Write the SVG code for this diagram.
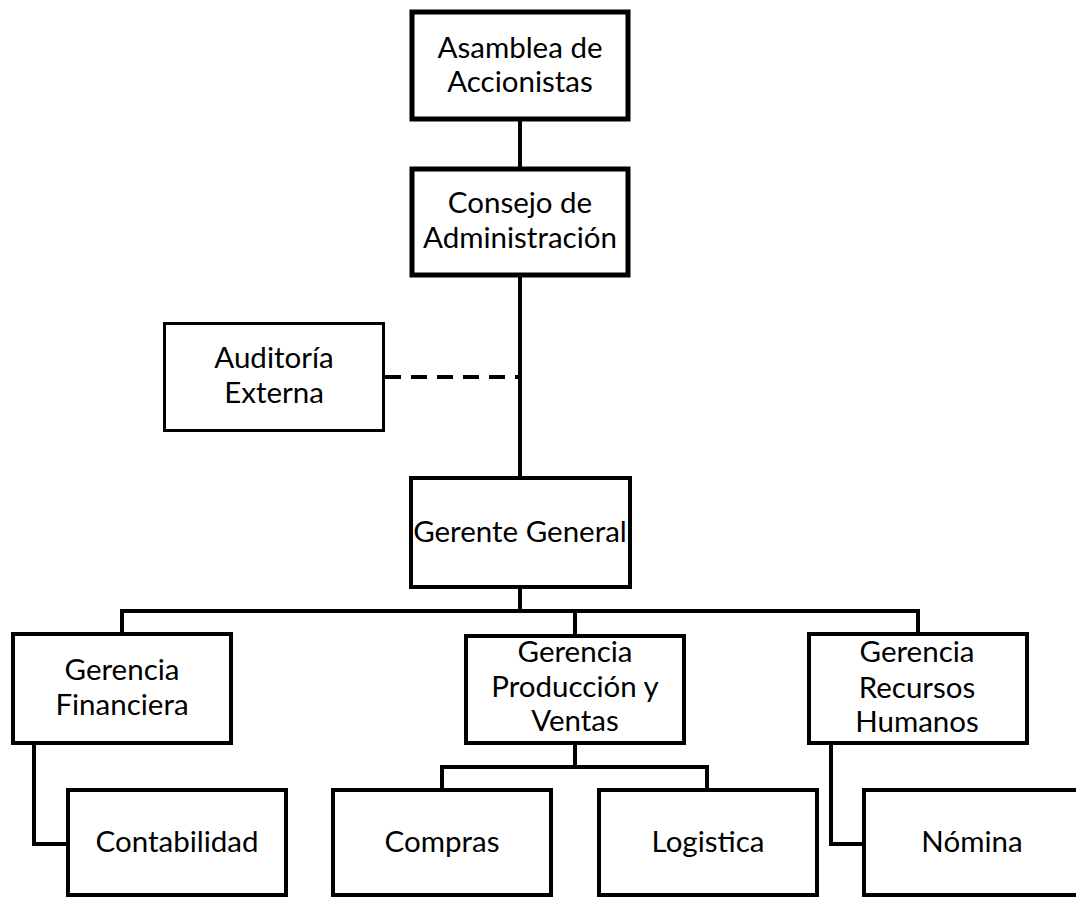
<svg xmlns="http://www.w3.org/2000/svg" width="1076" height="898" viewBox="0 0 1076 898">
<style>
.box{fill:#fff;stroke:#000;stroke-width:4}
.thick{stroke-width:5}
.thin{stroke-width:3}
.t{font-family:Lato,"Open Sans","Liberation Sans",sans-serif;font-size:29.5px;fill:#000;text-anchor:middle}
.c{fill:none;stroke:#000;stroke-width:4}
.d{fill:none;stroke:#000;stroke-width:4;stroke-dasharray:16 10}
</style>
<rect width="1076" height="898" fill="#fff"/>
<g id="connectors">
<line class="c" x1="520" y1="119" x2="520" y2="169"/>
<line class="c" x1="520" y1="275" x2="520" y2="478"/>
<line class="d" x1="385" y1="377" x2="518" y2="377"/>
<line class="c" x1="520" y1="587" x2="520" y2="611"/>
<polyline class="c" points="122,634 122,611 918,611 918,634"/>
<line class="c" x1="575" y1="611" x2="575" y2="636"/>
<line class="c" x1="575" y1="743" x2="575" y2="767"/>
<polyline class="c" points="442,790 442,767 707,767 707,790"/>
<polyline class="c" points="34,743 34,844 68,844"/>
<polyline class="c" points="831,743 831,844 864,844"/>
</g>
<g id="asamblea">
<rect class="box thick" x="412" y="12" width="216" height="107"/>
<text class="t" x="520" y="58">Asamblea de</text>
<text class="t" x="520" y="92">Accionistas</text>
</g>
<g id="consejo">
<rect class="box thick" x="412" y="169" width="216" height="106"/>
<text class="t" x="520" y="213">Consejo de</text>
<text class="t" x="520" y="248">Administración</text>
</g>
<g id="auditoria">
<rect class="box thin" x="164.5" y="323.5" width="219" height="107"/>
<text class="t" x="274" y="368">Auditoría</text>
<text class="t" x="274" y="403">Externa</text>
</g>
<g id="gerente">
<rect class="box" x="411" y="478" width="219" height="109"/>
<text class="t" x="520" y="542">Gerente General</text>
</g>
<g id="financiera">
<rect class="box" x="13" y="634" width="218" height="109"/>
<text class="t" x="122" y="680">Gerencia</text>
<text class="t" x="122" y="715">Financiera</text>
</g>
<g id="produccion">
<rect class="box" x="466" y="636" width="218" height="107"/>
<text class="t" x="575" y="662">Gerencia</text>
<text class="t" x="575" y="697">Producción y</text>
<text class="t" x="575" y="731">Ventas</text>
</g>
<g id="rrhh">
<rect class="box" x="809" y="634" width="218" height="109"/>
<text class="t" x="917" y="662">Gerencia</text>
<text class="t" x="917" y="698">Recursos</text>
<text class="t" x="917" y="732">Humanos</text>
</g>
<g id="contabilidad">
<rect class="box" x="68" y="790" width="218" height="105"/>
<text class="t" x="177" y="852">Contabilidad</text>
</g>
<g id="compras">
<rect class="box" x="333" y="790" width="218" height="105"/>
<text class="t" x="442" y="852">Compras</text>
</g>
<g id="logistica">
<rect class="box" x="599" y="790" width="218" height="105"/>
<text class="t" x="708" y="852">Logistica</text>
</g>
<g id="nomina">
<rect class="box" x="864" y="790" width="218" height="105"/>
<text class="t" x="972" y="852">Nómina</text>
</g>
</svg>
